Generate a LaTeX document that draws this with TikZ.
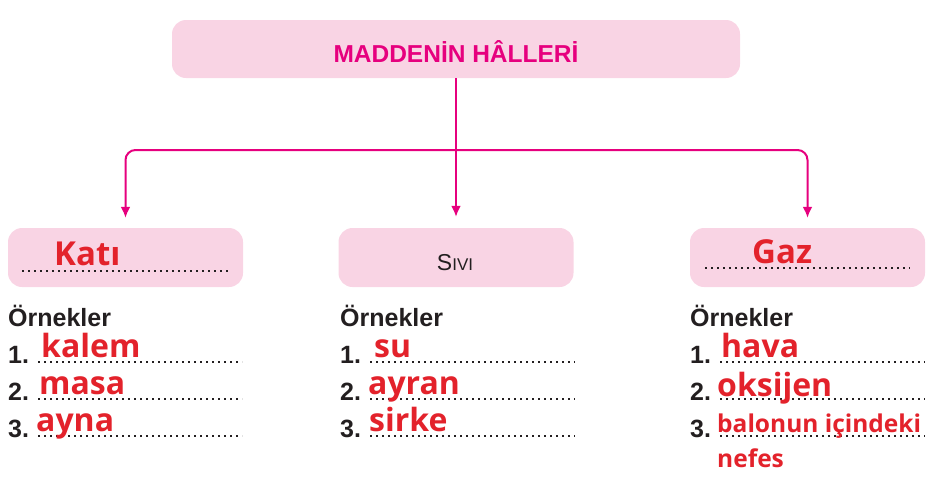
\documentclass[tikz,border=0pt]{standalone}
\usepackage{fontspec}
\setmainfont{Liberation Sans}
\newfontfamily\answerfont{Open Sans}
\usepackage{tikz}
\usetikzlibrary{shapes,arrows.meta,positioning}
\usepackage{xcolor}

\definecolor{titlepink}{HTML}{E6007E}
\definecolor{boxpink}{HTML}{F9D4E4}
\definecolor{answerred}{HTML}{E3222B}
\definecolor{inkblack}{HTML}{231F20}

\tikzset{
  statebox/.style={fill=boxpink, rounded corners=14pt, minimum width=235pt, minimum height=59pt, inner sep=0pt},
  label/.style={anchor=base west, inner sep=0pt, text=inkblack, font=\fontsize{25}{25}\selectfont\bfseries},
  answer/.style={anchor=base west, inner sep=0pt, text=answerred, font=\answerfont\bfseries\fontsize{32}{32}\selectfont},
  dotline/.style={inkblack, line width=2.2pt, dash pattern=on 2.2pt off 3.8pt},
  conn/.style={titlepink, line width=2pt, -{Latex[length=11pt,width=10pt]}, rounded corners=10pt}
}

\begin{document}
\begin{tikzpicture}[x=1pt, y=-1pt]
    \useasboundingbox (0,0) rectangle (936,480);

    % boxes
    \node[statebox, minimum width=568pt, minimum height=58pt] (title) at (456,49) {};
    \node[anchor=base, inner sep=0pt, text=titlepink, font=\fontsize{24.5}{24.5}\selectfont\bfseries] (titletext) at (456,62) {MADDENİN HÂLLERİ};

    \node[statebox] (kati) at (125.5,257.5) {};
    \node[statebox] (sivi) at (456,257.5) {};
    \node[statebox] (gaz) at (807.5,257.5) {};

    % arrows
    \coordinate (split) at (456,150);
    \draw[conn, shorten >=11pt] (title.south) -- (sivi.north);
    \draw[conn, shorten >=10pt] (split) -| (kati.north);
    \draw[conn, shorten >=10pt] (split) -| (gaz.north);

    % box texts
    \node[answer, font=\answerfont\bfseries\fontsize{33}{33}\selectfont] (katitext) at (54,265) {Katı};
    \draw[dotline] (22,271) -- (228,271);
    \node[anchor=base, inner sep=0pt, text=inkblack, font=\fontsize{23}{23}\selectfont] (sivitext) at (455,270) {S{\fontsize{17}{17}\selectfont IVI}};
    \node[answer, font=\answerfont\bfseries\fontsize{33}{33}\selectfont] (gaztext) at (752,263) {Gaz};
    \draw[dotline] (705,268) -- (910,268);

    % examples: solid
    \node[label] (katiex) at (8,326) {Örnekler};
    \node[label] (kati1) at (8,363) {1.};
    \node[label] (kati2) at (8,400) {2.};
    \node[label] (kati3) at (8,437) {3.};
    \draw[dotline] (38,362) -- (242,362);
    \draw[dotline] (38,399) -- (242,399);
    \draw[dotline] (38,436) -- (242,436);
    \node[answer] (kalem) at (41,357) {kalem};
    \node[answer] (masa) at (39,394) {masa};
    \node[answer] (ayna) at (36,431) {ayna};

    % examples: liquid
    \node[label] (siviex) at (340,326) {Örnekler};
    \node[label] (sivi1) at (340,363) {1.};
    \node[label] (sivi2) at (340,400) {2.};
    \node[label] (sivi3) at (340,437) {3.};
    \draw[dotline] (370,362) -- (575,362);
    \draw[dotline] (370,399) -- (575,399);
    \draw[dotline] (370,436) -- (575,436);
    \node[answer] (su) at (374,357) {su};
    \node[answer] (ayran) at (368,394) {ayran};
    \node[answer] (sirke) at (369,431) {sirke};

    % examples: gas
    \node[label] (gazex) at (690,326) {Örnekler};
    \node[label] (gaz1) at (690,363) {1.};
    \node[label] (gaz2) at (690,400) {2.};
    \node[label] (gaz3) at (690,437) {3.};
    \draw[dotline] (720,362) -- (925,362);
    \draw[dotline] (720,399) -- (925,399);
    \draw[dotline] (720,436) -- (925,436);
    \node[answer] (hava) at (721,357) {hava};
    \node[answer] (oksijen) at (717,396) {oksijen};
    \node[answer, font=\answerfont\bfseries\fontsize{24.5}{24.5}\selectfont] (balonun) at (717,432) {balonun içindeki};
    \node[answer, font=\answerfont\bfseries\fontsize{24.5}{24.5}\selectfont] (nefes) at (717,467) {nefes};
\end{tikzpicture}
\end{document}
